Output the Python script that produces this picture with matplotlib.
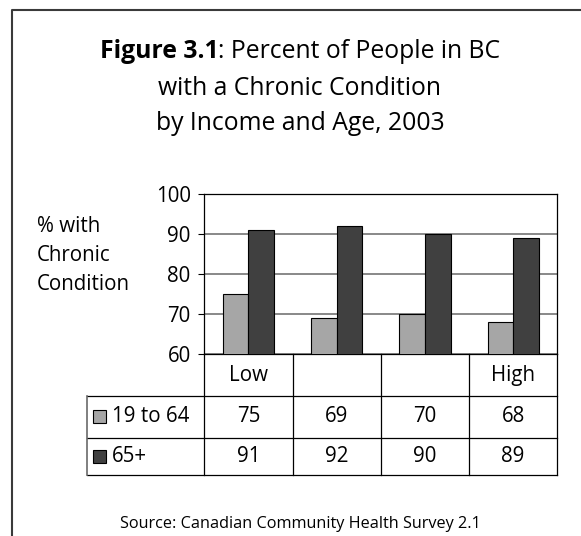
import matplotlib
matplotlib.use("Agg")
import matplotlib.pyplot as plt
from matplotlib.patches import Rectangle
from matplotlib.lines import Line2D
from matplotlib.transforms import Affine2D, blended_transform_factory
import numpy as np

plt.rcParams['font.family'] = ['Open Sans', 'DejaVu Sans']

# ---- data ----
income_groups = ["Low", "", "", "High"]
series_names = ["19 to 64", "65+"]
ages_19_64 = [75, 69, 70, 68]
ages_65_plus = [91, 92, 90, 89]
y_ticks = [60, 70, 80, 90, 100]

LIGHT = '#a6a6a6'
DARK = '#404040'

W, H = 581, 536
fig = plt.figure(figsize=(W / 100, H / 100), dpi=100)
fig.patch.set_facecolor('white')

# pixel coordinates (y downwards) -> figure
PX = Affine2D().scale(1 / W, -1 / H).translate(0, 1) + fig.transFigure

# outer frame, running off the right and bottom edges
fig.add_artist(Line2D([12, 12, W + 10], [H + 10, 9.5, 9.5], transform=PX,
                      color='#3a3a3a', lw=1.5))

# ---- title ----
renderer = fig.canvas.get_renderer()
cx = 300
TS = 17.8
t1 = fig.text(0, 57.7, "Figure 3.1", transform=PX, fontsize=TS,
              fontweight='bold', va='baseline', ha='left')
t2 = fig.text(0, 57.7, ": Percent of People in BC", transform=PX,
              fontsize=TS, va='baseline', ha='left')
w1 = t1.get_window_extent(renderer).width
w2 = t2.get_window_extent(renderer).width
x0 = cx - (w1 + w2) / 2
t1.set_x(x0)
t2.set_x(x0 + w1)
fig.text(cx, 95, "with a Chronic Condition", transform=PX, fontsize=TS,
         va='baseline', ha='center')
fig.text(cx, 130, "by Income and Age, 2003", transform=PX, fontsize=TS,
         va='baseline', ha='center')

# ---- bar chart ----
left, right, top, bottom = 204.3, 557.3, 194, 354
ax = fig.add_axes([left / W, 1 - bottom / H, (right - left) / W, (bottom - top) / H])
x = np.arange(len(income_groups))
bw = 0.29
ax.bar(x - bw / 2, ages_19_64, bw, color=LIGHT, edgecolor='black',
       linewidth=0.8, zorder=3)
ax.bar(x + bw / 2, ages_65_plus, bw, color=DARK, edgecolor='black',
       linewidth=0.8, zorder=3)
ax.set_ylim(y_ticks[0], y_ticks[-1])
ax.set_xlim(-0.5, len(x) - 0.5)
ax.set_yticks(y_ticks)
ax.set_xticks([])
ax.yaxis.grid(True, color='#7f7f7f', lw=1.3)
ax.set_axisbelow(True)
ax.tick_params(axis='y', length=4.3, width=0.8, pad=5.5, labelsize=14.8,
               colors='black')
for s in ax.spines.values():
    s.set_color('black')
    s.set_linewidth(0.9)

# multi-line label: baseline refers to the last line
fig.text(36.7, 290, "% with\nChronic\nCondition", transform=PX,
         fontsize=14.8, ha='left', va='baseline', linespacing=1.5)

# ---- data table below the axis ----
XT = blended_transform_factory(ax.transData, PX)
row_edges = [354, 395.7, 437.7, 475]
leg_left = 86.7
col_edges = np.arange(len(x) + 1) - 0.5
lk = dict(color='black', lw=0.9)

for ce in col_edges:
    fig.add_artist(Line2D([ce, ce], [row_edges[0], row_edges[-1]], transform=XT, **lk))
x_leg = ax.transData.inverted().transform(
    (PX.transform((leg_left, 0))[0], 0))[0]
for re in row_edges[1:]:
    fig.add_artist(Line2D([x_leg, col_edges[-1]], [re, re], transform=XT, **lk))
fig.add_artist(Line2D([leg_left, leg_left], [row_edges[1], row_edges[-1]],
                      transform=PX, color='#6a6a6a', lw=1.2))

# category names in the header row
for i, name in enumerate(income_groups):
    fig.text(i, (row_edges[0] + row_edges[1]) / 2 + 1, name, transform=XT,
             fontsize=14.8, ha='center', va='center')

# legend keys and values
for r, (name, vals, col) in enumerate(zip(series_names,
                                          [ages_19_64, ages_65_plus],
                                          [LIGHT, DARK])):
    yc = (row_edges[r + 1] + row_edges[r + 2]) / 2
    fig.add_artist(Rectangle((93.3, yc - 6.3), 12.5, 12.5, transform=PX,
                             facecolor=col, edgecolor='black', lw=0.8))
    fig.text(112, yc, name, transform=PX, fontsize=14.8, ha='left',
             va='center')
    for i, v in enumerate(vals):
        fig.text(i, yc, f"{v}", transform=XT, fontsize=14.8, ha='center',
                 va='center')

# ---- source ----
fig.text(cx, 528, "Source: Canadian Community Health Survey 2.1",
         transform=PX, fontsize=11.7, ha='center', va='baseline')

fig.savefig("out.png", dpi=100)
